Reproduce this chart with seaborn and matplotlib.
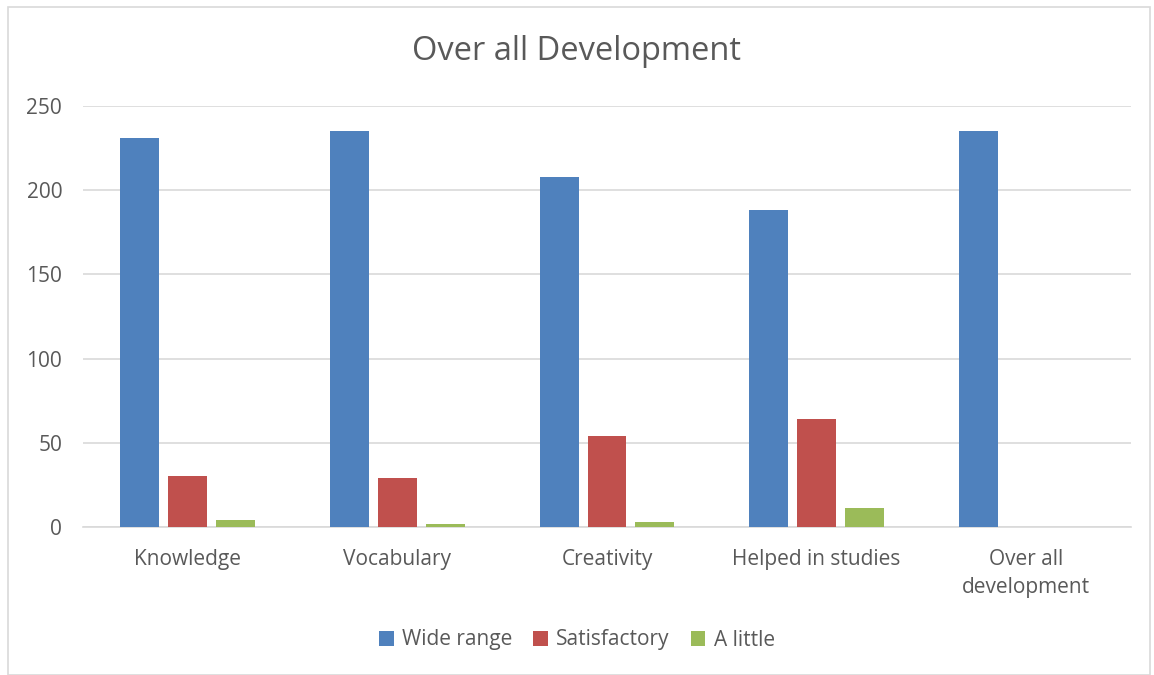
import pandas as pd
import matplotlib.pyplot as plt
import seaborn as sns
from matplotlib.patches import Rectangle

# data
categories = ["Knowledge", "Vocabulary", "Creativity", "Helped in studies", "Over all\ndevelopment"]
wide_range = [231, 235, 208, 188, 235]
satisfactory = [30, 29, 54, 64, 0]
a_little = [4, 2, 3, 11, 0]
series = ["Wide range", "Satisfactory", "A little"]
colors = ["#4F81BD", "#C0504D", "#9BBB59"]

df = pd.DataFrame({
    "category": categories * 3,
    "series": [s for s in series for _ in categories],
    "value": wide_range + satisfactory + a_little,
})

sns.set_style("white")
plt.rcParams['font.family'] = ['Open Sans', 'DejaVu Sans']
text_col = "#595959"

fig = plt.figure(figsize=(11.54, 6.75), dpi=100)
ax = fig.add_axes([83 / 1154, 1 - 527 / 675, 1048 / 1154, 421 / 675])

sns.barplot(data=df, x="category", y="value", hue="series", palette=colors,
            width=0.687, gap=0.1875, ax=ax, legend=True, errorbar=None,
            saturation=1, linewidth=0, zorder=3)

ax.set_ylim(0, 250)
ax.set_yticks(range(0, 251, 50))
ax.set_xlim(-0.5, 4.5)
ax.yaxis.grid(True, color="#D9D9D9", linewidth=1.2, zorder=0)
ax.set_axisbelow(True)
for sp in ["top", "right", "left"]:
    ax.spines[sp].set_visible(False)
ax.spines["bottom"].set_color("#D9D9D9")
ax.spines["bottom"].set_linewidth(1.2)
ax.tick_params(axis="both", length=0, colors=text_col, labelsize=15)
ax.tick_params(axis="x", pad=16)
ax.tick_params(axis="y", pad=15)
for lbl in ax.get_xticklabels():
    lbl.set_linespacing(1.45)
ax.set_xlabel("")
ax.set_ylabel("")

fig.text(0.5, 1 - 52 / 675, "Over all Development", ha="center", va="center",
         fontsize=23.5, color=text_col)

ax.legend(loc="center", bbox_to_anchor=(0.5, 1 - 640 / 675), bbox_transform=fig.transFigure,
          ncol=3, frameon=False, fontsize=15, labelcolor=text_col,
          handlelength=0.7, handleheight=0.7, handletextpad=0.4, columnspacing=1.0)

fig.patches.append(Rectangle((8 / 1154, 0), 1142 / 1154, 1 - 7 / 675, transform=fig.transFigure,
                             fill=False, edgecolor="#D9D9D9", linewidth=1.2))

fig.savefig("out.png", dpi=100)
